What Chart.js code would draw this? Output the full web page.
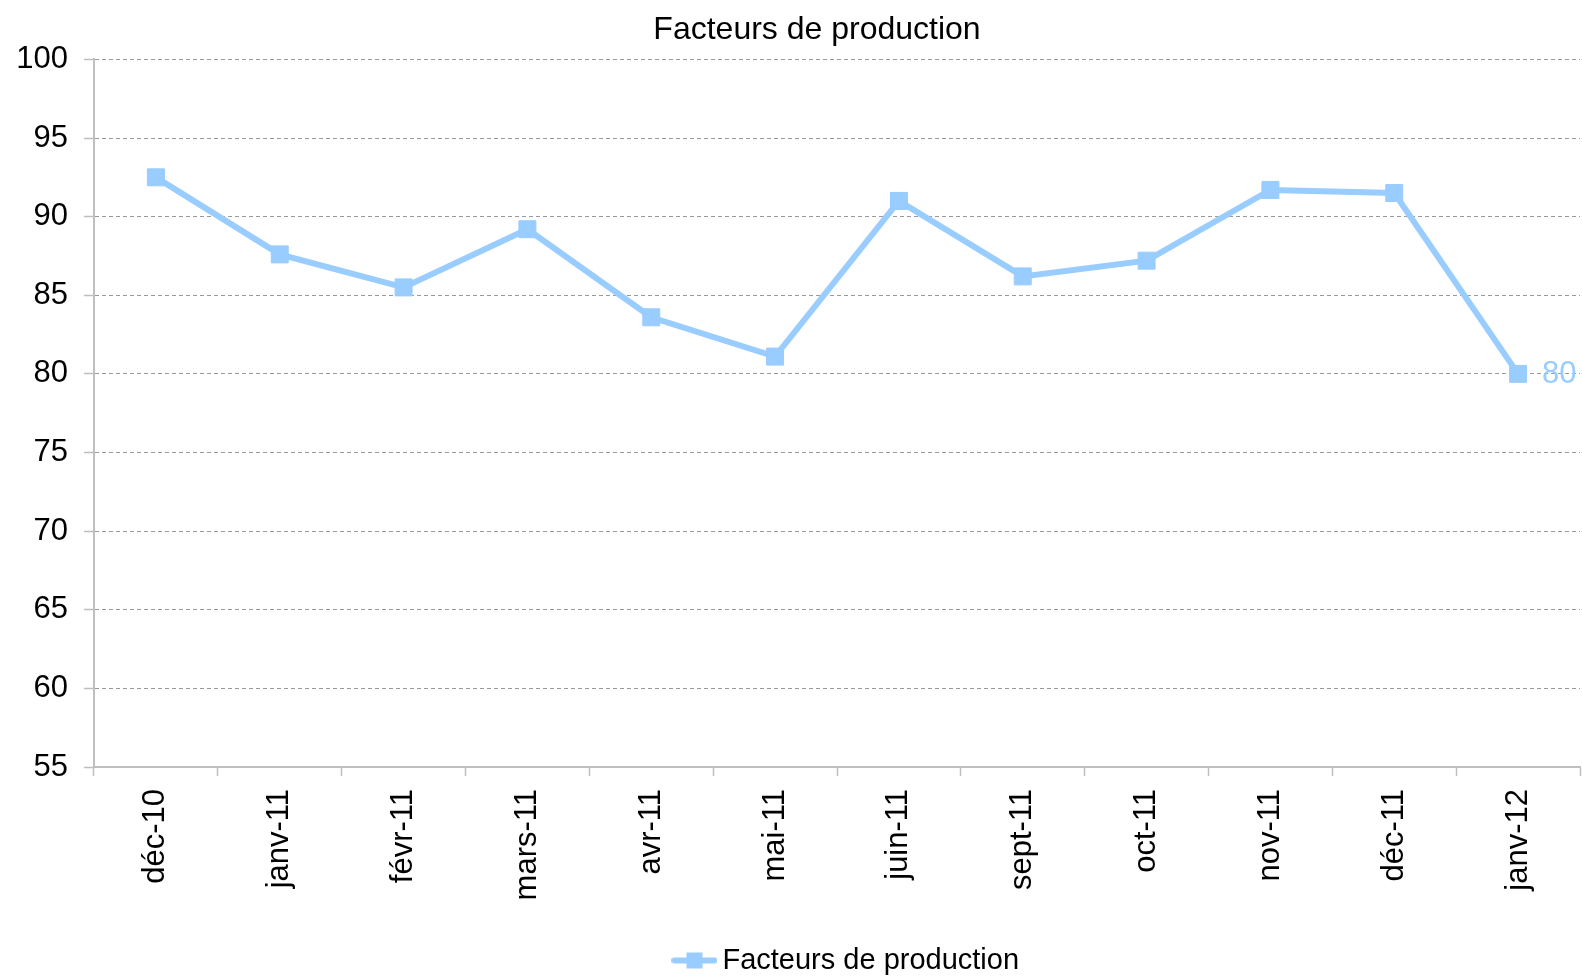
<!DOCTYPE html>
<html>
<head>
<meta charset="utf-8">
<script src="https://cdn.jsdelivr.net/npm/chart.js@4.4.1/dist/chart.umd.min.js"></script>
<style>
html,body{margin:0;padding:0;background:#fff;}
#wrap{width:1582px;height:976px;position:relative;}
</style>
</head>
<body>
<div id="wrap"><canvas id="c" width="1582" height="976"></canvas></div>
<script>
const categories = ["déc-10","janv-11","févr-11","mars-11","avr-11","mai-11","juin-11","sept-11","oct-11","nov-11","déc-11","janv-12"];
const seriesName = "Facteurs de production";
const values = [92.5, 87.6, 85.5, 89.2, 83.6, 81.1, 91.0, 86.2, 87.2, 91.7, 91.5, 80];
const yMin = 55, yMax = 100, yStep = 5;
const titleText = "Facteurs de production";

const FONT = "'Liberation Sans', Arial, sans-serif";
const BLUE = "#99CCFF";

const sym = document.createElement('canvas');
sym.width = 46; sym.height = 18;
(function(){
  const g = sym.getContext('2d');
  g.strokeStyle = BLUE; g.lineWidth = 6; g.lineCap = 'round';
  g.beginPath(); g.moveTo(3, 9); g.lineTo(43, 9); g.stroke();
  g.fillStyle = BLUE; g.fillRect(15, 1, 16, 16);
})();

const lastLabel = {
  id: 'lastLabel',
  afterDatasetsDraw(chart) {
    const meta = chart.getDatasetMeta(0);
    const i = values.length - 1;
    const pt = meta.data[i];
    const ctx = chart.ctx;
    ctx.save();
    ctx.font = "31px " + FONT;
    ctx.fillStyle = BLUE;
    ctx.textAlign = 'left';
    ctx.textBaseline = 'middle';
    ctx.fillText(String(values[i]), pt.x + 24, pt.y + 1);
    ctx.restore();
  }
};

const shifts = {
  id: 'shifts',
  afterLayout(chart) {
    const lg = chart.legend;
    if (lg) { lg.left += 60; lg.right += 60; lg.top += 9; lg.bottom += 9; }
    const tb = chart.titleBlock;
    if (tb) { tb.left += 27; tb.right += 27; }
  }
};

const PLOT_BOTTOM = 767;

new Chart(document.getElementById('c'), {
  type: 'line',
  data: {
    labels: categories,
    datasets: [{
      label: seriesName,
      data: values,
      borderColor: BLUE,
      backgroundColor: BLUE,
      borderWidth: 6,
      pointStyle: 'rect',
      pointRadius: 12,
      pointBorderWidth: 1,
      pointBorderColor: BLUE,
      pointBackgroundColor: BLUE,
      tension: 0,
      fill: false,
      clip: false
    }]
  },
  options: {
    responsive: false,
    animation: false,
    events: [],
    layout: { autoPadding: false, padding: { left: 0, right: 2, top: 0, bottom: 0 } },
    plugins: {
      title: {
        display: true,
        text: titleText,
        color: '#000',
        font: { family: FONT, size: 32, weight: 'normal', lineHeight: 1.2 },
        padding: { top: 11, bottom: 10 }
      },
      legend: {
        display: true,
        position: 'bottom',
        labels: {
          color: '#000',
          font: { family: FONT, size: 29 },
          usePointStyle: true,
          pointStyleWidth: 27,
          padding: 10,
          generateLabels(chart) {
            return [{
              text: seriesName,
              pointStyle: sym,
              fillStyle: BLUE,
              strokeStyle: BLUE,
              lineWidth: 0,
              datasetIndex: 0,
              hidden: false
            }];
          }
        }
      },
      tooltip: { enabled: false }
    },
    scales: {
      x: {
        type: 'category',
        offset: true,
        grid: {
          display: true,
          offset: true,
          drawOnChartArea: false,
          drawTicks: true,
          tickLength: 9,
          tickColor: '#bfbfbf',
          tickWidth: 1.5
        },
        border: { display: true, color: '#bfbfbf', width: 2 },
        ticks: {
          color: '#000',
          font: { family: FONT, size: 31 },
          autoSkip: false,
          minRotation: 90,
          maxRotation: 90,
          padding: 13
        },
        afterFit(scale) {
          const ch = scale.chart;
          const lh = ch.legend ? ch.legend.height : 0;
          scale.height = ch.height - PLOT_BOTTOM - lh;
          scale.paddingLeft = 0;
          scale.paddingRight = 0;
        }
      },
      y: {
        min: yMin,
        max: yMax,
        grid: {
          display: true,
          color: '#9a9a9a',
          lineWidth: 1,
          drawTicks: true,
          tickLength: 10,
          tickColor: '#bfbfbf',
          tickBorderDash: [],
          tickWidth: 1.5
        },
        border: { display: true, color: '#bfbfbf', width: 2, dash: [4, 3] },
        ticks: {
          stepSize: yStep,
          color: '#000',
          font: { family: FONT, size: 31 },
          padding: 16
        },
        afterFit(scale) { scale.width = 94; scale.paddingTop = 0; scale.paddingBottom = 0; }
      }
    }
  },
  plugins: [lastLabel, shifts]
});
</script>
</body>
</html>
